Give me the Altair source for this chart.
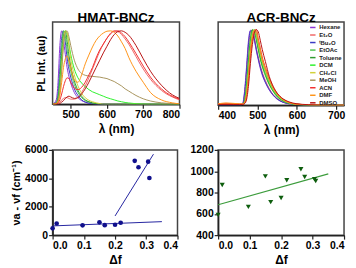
import altair as alt
import pandas as pd

FONT = "Liberation Sans"

solvents = ["Hexane", "Et₂O", "ᵗBu₂O", "EtOAc", "Toluene", "DCM", "CH₂Cl", "MeOH", "ACN", "DMF", "DMSO"]
colors = ["#8E36D6", "#F06868", "#3A3AC4", "#52C452", "#2F9A2F", "#2EF22E", "#D2D23A", "#A8955E", "#F23030", "#FF9418", "#B81414"]

# ---------------- HMAT-BNCz spectra (normalised PL) ----------------
wl_hmat = [450, 460, 465, 470, 475, 480, 485, 490, 495, 500, 510, 520, 530, 540, 550, 560,
           570, 580, 590, 600, 610, 620, 630, 640, 650, 660, 680, 700, 720, 750, 780, 800]
hmat_hexane = [0, 0.06, 0.3, 0.8, 1.0, 0.88, 0.68, 0.5, 0.38, 0.29, 0.16, 0.09, 0.05, 0.03, 0.015, 0.01,
               0, 0, 0, 0, 0, 0, 0, 0, 0, 0, 0, 0, 0, 0, 0, 0]
hmat_et2o = [0, 0, 0.01, 0.03, 0.06, 0.08, 0.09, 0.09, 0.08, 0.07, 0.07, 0.1, 0.16, 0.25, 0.36, 0.48,
             0.6, 0.72, 0.82, 0.9, 0.97, 1.0, 0.99, 0.95, 0.89, 0.82, 0.65, 0.48, 0.34, 0.19, 0.1, 0.06]
hmat_tbu2o = [0, 0.03, 0.15, 0.5, 0.9, 1.0, 0.85, 0.63, 0.48, 0.37, 0.21, 0.12, 0.06, 0.03, 0.015, 0.01,
              0, 0, 0, 0, 0, 0, 0, 0, 0, 0, 0, 0, 0, 0, 0, 0]
hmat_etoac = [0, 0.02, 0.1, 0.38, 0.78, 1.0, 0.93, 0.74, 0.57, 0.45, 0.27, 0.16, 0.09, 0.05, 0.03, 0.015,
              0.01, 0, 0, 0, 0, 0, 0, 0, 0, 0, 0, 0, 0, 0, 0, 0]
hmat_toluene = [0, 0.01, 0.07, 0.28, 0.65, 0.93, 1.0, 0.86, 0.67, 0.52, 0.32, 0.19, 0.11, 0.06, 0.035, 0.02,
                0.01, 0, 0, 0, 0, 0, 0, 0, 0, 0, 0, 0, 0, 0, 0, 0]
hmat_dcm = [0, 0.01, 0.05, 0.22, 0.55, 0.85, 1.0, 0.96, 0.82, 0.68, 0.48, 0.36, 0.29, 0.24, 0.2, 0.17,
            0.15, 0.13, 0.11, 0.09, 0.075, 0.06, 0.045, 0.035, 0.025, 0.018, 0.008, 0.003, 0, 0, 0, 0]
hmat_ch2cl = [0, 0.01, 0.04, 0.18, 0.5, 0.85, 1.0, 0.97, 0.8, 0.62, 0.4, 0.25, 0.15, 0.09, 0.055, 0.035,
              0.02, 0.01, 0, 0, 0, 0, 0, 0, 0, 0, 0, 0, 0, 0, 0, 0]
hmat_meoh = [0, 0.01, 0.04, 0.17, 0.45, 0.8, 0.97, 1.0, 0.92, 0.8, 0.6, 0.48, 0.42, 0.395, 0.385, 0.38,
             0.375, 0.37, 0.36, 0.35, 0.33, 0.31, 0.28, 0.25, 0.21, 0.18, 0.12, 0.075, 0.045, 0.02, 0.01, 0.005]
hmat_acn = [0, 0, 0.02, 0.06, 0.14, 0.24, 0.32, 0.36, 0.35, 0.3, 0.22, 0.2, 0.23, 0.3, 0.4, 0.5,
            0.63, 0.74, 0.82, 0.9, 0.96, 0.995, 1.0, 0.97, 0.92, 0.85, 0.69, 0.52, 0.37, 0.21, 0.11, 0.07]
hmat_dmf = [0, 0.01, 0.04, 0.12, 0.3, 0.5, 0.62, 0.66, 0.6, 0.5, 0.33, 0.3, 0.4, 0.55, 0.67, 0.78,
            0.87, 0.93, 0.97, 0.995, 1.0, 0.98, 0.93, 0.85, 0.76, 0.64, 0.45, 0.3, 0.16, 0.06, 0.02, 0.005]
hmat_dmso = [0, 0, 0, 0.01, 0.03, 0.05, 0.08, 0.1, 0.11, 0.1, 0.08, 0.09, 0.14, 0.21, 0.3, 0.4,
             0.5, 0.6, 0.7, 0.79, 0.88, 0.95, 0.99, 1.0, 0.98, 0.94, 0.8, 0.62, 0.45, 0.26, 0.13, 0.08]

# ---------------- ACR-BNCz spectra (normalised PL) ----------------
wl_acr = [400, 420, 440, 455, 462, 467, 472, 477, 482, 487, 492, 497, 502, 507, 512, 520,
          530, 540, 550, 565, 580, 600, 630, 680, 720]
acr_hexane = [0.01, 0.01, 0.01, 0.01, 0.02, 0.18, 0.5, 0.85, 0.99, 0.97, 0.86, 0.72, 0.6, 0.49, 0.4, 0.3,
              0.2, 0.13, 0.08, 0.04, 0.02, 0.01, 0, 0, 0]
acr_et2o = [0.02, 0.025, 0.02, 0.015, 0.02, 0.12, 0.4, 0.75, 0.95, 1.0, 0.9, 0.76, 0.64, 0.53, 0.44, 0.33,
            0.22, 0.14, 0.09, 0.045, 0.02, 0.01, 0.005, 0, 0]
acr_tbu2o = [0, 0, 0, 0, 0.01, 0.15, 0.45, 0.8, 0.98, 0.99, 0.88, 0.74, 0.62, 0.51, 0.42, 0.31,
             0.21, 0.135, 0.085, 0.04, 0.02, 0.01, 0, 0, 0]
acr_etoac = [0.01, 0.01, 0.01, 0.01, 0.01, 0.06, 0.27, 0.6, 0.88, 1.0, 0.97, 0.86, 0.73, 0.61, 0.51, 0.39,
             0.27, 0.18, 0.11, 0.055, 0.025, 0.01, 0, 0, 0]
acr_toluene = [0.01, 0.01, 0.01, 0.01, 0.01, 0.05, 0.24, 0.56, 0.85, 0.99, 0.98, 0.88, 0.75, 0.63, 0.53, 0.41,
               0.28, 0.19, 0.12, 0.06, 0.03, 0.01, 0, 0, 0]
acr_dcm = [0.01, 0.01, 0.01, 0.01, 0.01, 0.04, 0.2, 0.5, 0.8, 0.97, 1.0, 0.9, 0.78, 0.66, 0.56, 0.43,
           0.3, 0.2, 0.13, 0.065, 0.03, 0.012, 0, 0, 0]
acr_ch2cl = [0.015, 0.015, 0.01, 0.01, 0.01, 0.03, 0.16, 0.44, 0.75, 0.94, 1.0, 0.93, 0.81, 0.69, 0.58, 0.45,
             0.32, 0.21, 0.14, 0.07, 0.035, 0.015, 0.005, 0, 0]
acr_meoh = [0.01, 0.01, 0.01, 0.01, 0.01, 0.03, 0.14, 0.4, 0.72, 0.92, 0.99, 0.95, 0.83, 0.71, 0.6, 0.47,
            0.33, 0.22, 0.145, 0.075, 0.035, 0.015, 0.005, 0, 0]
acr_acn = [0.02, 0.025, 0.02, 0.015, 0.015, 0.03, 0.12, 0.35, 0.66, 0.88, 0.98, 1.0, 0.88, 0.76, 0.64, 0.5,
           0.36, 0.24, 0.16, 0.08, 0.04, 0.015, 0.005, 0, 0]
acr_dmf = [0.02, 0.03, 0.025, 0.02, 0.02, 0.035, 0.13, 0.37, 0.69, 0.9, 0.99, 0.98, 0.86, 0.74, 0.62, 0.49,
           0.35, 0.23, 0.15, 0.075, 0.035, 0.015, 0.005, 0, 0]
acr_dmso = [0.01, 0.01, 0.01, 0.01, 0.01, 0.02, 0.07, 0.25, 0.55, 0.8, 0.95, 1.0, 0.97, 0.86, 0.74, 0.58,
            0.38, 0.25, 0.16, 0.085, 0.045, 0.02, 0.008, 0, 0]

# ---------------- Lippert-Mataga data ----------------
delta_f = [0.0, 0.013, 0.096, 0.15, 0.167, 0.2, 0.218, 0.263, 0.275, 0.306, 0.31]
hmat_shift = [480, 820, 690, 900, 700, 730, 870, 5230, 4780, 5170, 4020]
acr_shift = [590, 870, 665, 952, 710, 748, 915, 1018, 946, 924, 908]
hmat_fit_low_x = [0.0, 0.35]
hmat_fit_low_y = [650, 950]
hmat_fit_high_x = [0.2, 0.323]
hmat_fit_high_y = [1350, 5700]
acr_fit_x = [0.0, 0.35]
acr_fit_y = [685, 975]


def long_df(grid, series):
    rows = []
    for name, vals in zip(solvents, series):
        for w, v in zip(grid, vals):
            rows.append({"solvent": name, "wl": w, "pl": v})
    return pd.DataFrame(rows)


df_hmat = long_df(wl_hmat, [hmat_hexane, hmat_et2o, hmat_tbu2o, hmat_etoac, hmat_toluene, hmat_dcm,
                            hmat_ch2cl, hmat_meoh, hmat_acn, hmat_dmf, hmat_dmso])
df_acr = long_df(wl_acr, [acr_hexane, acr_et2o, acr_tbu2o, acr_etoac, acr_toluene, acr_dcm,
                          acr_ch2cl, acr_meoh, acr_acn, acr_dmf, acr_dmso])

color_scale = alt.Scale(domain=solvents, range=colors)

title_style = dict(fontSize=13.5, font=FONT, fontWeight="bold", color="black", offset=-2)

tl = alt.Chart(df_hmat).mark_line(strokeWidth=1, clip=True, interpolate="monotone").encode(
    x=alt.X("wl:Q", scale=alt.Scale(domain=[450, 800], nice=False, zero=False),
            axis=alt.Axis(values=[500, 600, 700, 800], title="λ (nm)")),
    y=alt.Y("pl:Q", scale=alt.Scale(domain=[0, 1.12], nice=False),
            axis=alt.Axis(labels=False, ticks=False, domain=False, title="PL Int. (au)", titlePadding=6)),
    color=alt.Color("solvent:N", scale=color_scale, legend=None, sort=solvents),
).properties(width=128, height=83, title=alt.TitleParams("HMAT-BNCz", **title_style))

tr = alt.Chart(df_acr).mark_line(strokeWidth=1, clip=True, interpolate="monotone").encode(
    x=alt.X("wl:Q", scale=alt.Scale(domain=[400, 720], nice=False, zero=False),
            axis=alt.Axis(values=[400, 500, 600, 700], title="λ (nm)")),
    y=alt.Y("pl:Q", scale=alt.Scale(domain=[0, 1.1], nice=False), axis=None),
    color=alt.Color("solvent:N", scale=color_scale, sort=solvents,
                    legend=alt.Legend(title=None, orient="top-right", offset=2, padding=0,
                                      labelFont=FONT, labelFontWeight="bold", labelFontSize=6,
                                      labelColor="#222", symbolType="stroke", symbolSize=30,
                                      symbolStrokeWidth=1.5, rowPadding=0.6, labelOffset=3)),
).properties(width=127, height=84, title=alt.TitleParams("ACR-BNCz", **title_style))

df_bl = pd.DataFrame({"df": delta_f, "v": hmat_shift})
df_bl_low = pd.DataFrame({"df": hmat_fit_low_x, "v": hmat_fit_low_y})
df_bl_high = pd.DataFrame({"df": hmat_fit_high_x, "v": hmat_fit_high_y})

x_df = alt.X("df:Q", scale=alt.Scale(domain=[0, 0.4], nice=False),
             axis=alt.Axis(values=[0, 0.1, 0.2, 0.3, 0.4], format=".1f", title="Δf"))

bl_y = alt.Y("v:Q", scale=alt.Scale(domain=[0, 6000], nice=False),
             axis=alt.Axis(values=[0, 2000, 4000, 6000], format="d", title="νa - νf (cm⁻¹)", titlePadding=3))

bl = alt.layer(
    alt.Chart(df_bl_low).mark_line(color="#2424A0", strokeWidth=1).encode(x=x_df, y=bl_y),
    alt.Chart(df_bl_high).mark_line(color="#2424A0", strokeWidth=1).encode(x=x_df, y=bl_y),
    alt.Chart(df_bl).mark_point(filled=True, shape="circle", size=22, color="#10108C", opacity=1).encode(x=x_df, y=bl_y),
).properties(width=126, height=86)

df_br = pd.DataFrame({"df": delta_f, "v": acr_shift})
df_br_fit = pd.DataFrame({"df": acr_fit_x, "v": acr_fit_y})
br_y = alt.Y("v:Q", scale=alt.Scale(domain=[400, 1200], nice=False),
             axis=alt.Axis(values=[400, 600, 800, 1000, 1200], format="d", title=None))

br = alt.layer(
    alt.Chart(df_br_fit).mark_line(color="#3C9C3C", strokeWidth=1.2).encode(x=x_df, y=br_y),
    alt.Chart(df_br).mark_point(filled=True, shape="triangle-down", size=26, color="#0E5E0E", opacity=1).encode(x=x_df, y=br_y),
).properties(width=127, height=86)

chart = alt.concat(tl, tr, bl, br, columns=2, spacing={"row": 45, "column": 39}, bounds="flush").resolve_scale(
    color="independent"
).properties(
    padding={"left": 1, "top": 0, "right": 2, "bottom": 0}
).configure_view(
    stroke="#444", strokeWidth=1.5
).configure_axis(
    labelFont=FONT, labelFontWeight="bold", labelFontSize=10.5, labelColor="black",
    titleFont=FONT, titleFontWeight="bold", titleFontSize=12, titleColor="black",
    domainColor="#222", domainWidth=1.5, tickColor="#222", tickWidth=1.2, tickSize=4,
    labelPadding=1, grid=False
).configure_axisY(
    titleFontSize=11
)

chart.save("out.html", embed_options={"renderer": "svg", "actions": False})
